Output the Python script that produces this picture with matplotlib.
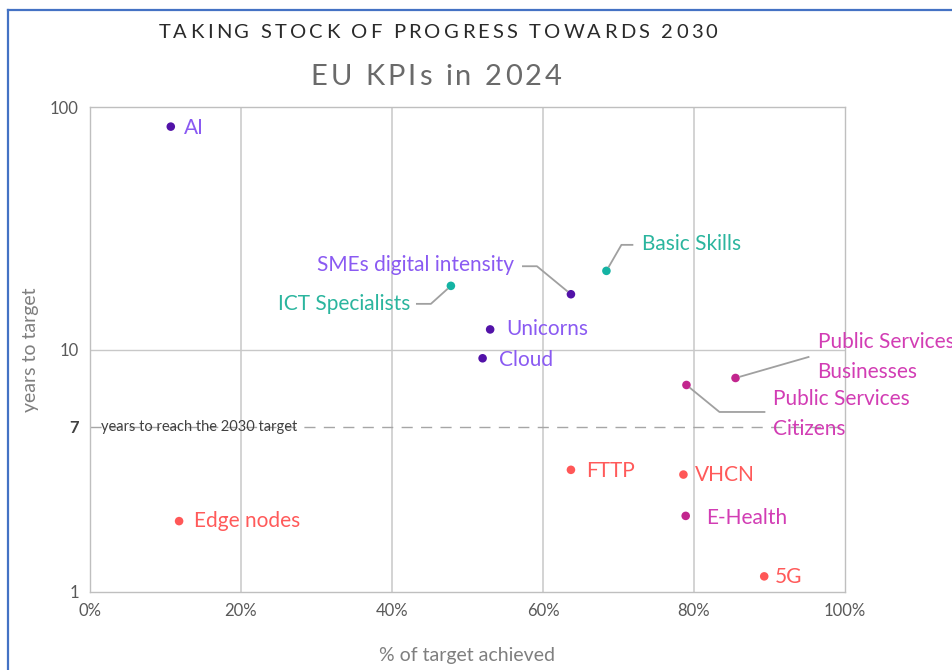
import numpy as np
import matplotlib
matplotlib.use("Agg")
import matplotlib.pyplot as plt
from matplotlib.lines import Line2D
from matplotlib.font_manager import FontProperties
from matplotlib.transforms import IdentityTransform

plt.rcParams['font.family'] = ['Lato', 'DejaVu Sans']

# data
kpis = ['AI', 'SMEs digital intensity', 'ICT Specialists', 'Basic Skills', 'Unicorns', 'Cloud',
        'Public Services\nBusinesses', 'Public Services\nCitizens', 'FTTP', 'VHCN', 'E-Health',
        '5G', 'Edge nodes']
pct_achieved = [10.7, 63.7, 47.8, 68.4, 53.0, 52.0, 85.5, 79.0, 63.7, 78.6, 78.9, 89.3, 11.8]
years_to_target = [83, 16.9, 18.3, 21.1, 12.1, 9.2, 7.63, 7.14, 3.19, 3.05, 2.06, 1.16, 1.96]
group = ['dig', 'dig', 'skill', 'skill', 'dig', 'dig', 'pub', 'pub', 'inf', 'inf', 'pub', 'inf', 'inf']

x_ticks = [0, 20, 40, 60, 80, 100]
x_ticklabels = ['0%', '20%', '40%', '60%', '80%', '100%']
y_ticks = [1, 10, 100]
# the reference line sits at this axis position and is labelled "7"
ref_line_pos = 4.8
ref_line_label = '7'

marker_col = {'dig': '#5212A8', 'skill': '#14B3A3', 'inf': '#FF5757', 'pub': '#C2268E'}
label_col = {'dig': '#8A5AF2', 'skill': '#2BB59E', 'inf': '#FF5A5A', 'pub': '#D23DB4'}

# label offset in pixels (dx, dy), alignment, leader line vertices (pixels from the dot)
lab = {
    'AI': ((13, -1), 'left', None),
    'SMEs digital intensity': ((-57, 29), 'right', [(-34, 28), (-48, 28)]),
    'ICT Specialists': ((-41, -18), 'right', [(-20, -18), (-34, -18)]),
    'Basic Skills': ((36, 27), 'left', [(15, 26), (26, 26)]),
    'Unicorns': ((16, 0), 'left', None),
    'Cloud': ((16, -2), 'left', None),
    'Public Services\nBusinesses': ((82, 21), 'left', [(73, 21)]),
    'Public Services\nCitizens': ((87, -29), 'left', [(33, -27), (78, -27)]),
    'FTTP': ((15, -1), 'left', None),
    'VHCN': ((12, 0), 'left', None),
    'E-Health': ((20, -2), 'left', None),
    '5G': ((11, -1), 'left', None),
    'Edge nodes': ((15, 0), 'left', None),
}

W, H = 953, 670
fig = plt.figure(figsize=(W / 100, H / 100), dpi=100)
ax = fig.add_axes([90 / W, 1 - 592 / H, 755 / W, 485 / H])

ax.set_yscale('log')
ax.set_xlim(0, 100)
ax.set_ylim(1, 100)

for v in x_ticks[1:-1]:
    ax.axvline(v, color='#D0D0D0', lw=1.3, zorder=0)
ax.axhline(10, color='#C8C8C8', lw=1.0, zorder=0)
ax.axhline(ref_line_pos, color='#A6A6A6', lw=1.0, dashes=(8, 6), zorder=1)
ax.text(1.5, ref_line_pos, 'years to reach the 2030 target', fontsize=10.5,
        color='#404040', va='center', ha='left', zorder=2)

for s in ax.spines.values():
    s.set_color('#BFBFBF')
    s.set_linewidth(1.0)

ax.set_xticks(x_ticks)
ax.set_xticklabels(x_ticklabels)
ax.set_yticks(y_ticks + [ref_line_pos])
ax.set_yticklabels([str(v) for v in y_ticks] + [ref_line_label])
ax.yaxis.set_minor_locator(plt.NullLocator())
ax.tick_params(length=0, labelsize=12, labelcolor='#595959', pad=8)
ax.get_yticklabels()[-1].set_color('#404040')
ax.get_yticklabels()[-1].set_fontweight('bold')

for name, x, y, g in zip(kpis, pct_achieved, years_to_target, group):
    ax.scatter(x, y, s=38, color=marker_col[g], zorder=4, edgecolors='none')
    (dx, dy), ha, leader = lab[name]
    ax.annotate(name, (x, y), xytext=(dx, dy), textcoords='offset pixels',
                ha=ha, va='center', fontsize=15, color=label_col[g],
                linespacing=1.6, zorder=5)
    if leader:
        px, py = ax.transData.transform((x, y))
        fx, fy = leader[0]
        d = np.hypot(fx, fy)
        xs = [px + fx * 5 / d] + [px + a for a, _ in leader]
        ys = [py + fy * 5 / d] + [py + b for _, b in leader]
        fig.add_artist(Line2D(xs, ys, transform=IdentityTransform(), color='#A0A0A0', lw=1.3))

ax.set_xlabel('% of target achieved', fontsize=14, color='#7F7F7F', labelpad=20)
ax.set_ylabel('years to target', fontsize=14, color='#7F7F7F', labelpad=8)


def spaced_title(s, xc, yc, size, track, color, weight):
    fp = FontProperties(family=['Lato', 'DejaVu Sans'], size=size, weight=weight)
    r = fig.canvas.get_renderer()
    base = r.get_text_width_height_descent('ll', fp, ismath=False)[0]
    widths = [r.get_text_width_height_descent('l' + c + 'l', fp, ismath=False)[0] - base for c in s]
    total = sum(widths) + track * (len(s) - 1)
    x = xc - total / 2
    for c, w in zip(s, widths):
        fig.text(x / W, 1 - yc / H, c, fontproperties=fp, color=color, ha='left', va='center')
        x += w + track


spaced_title('TAKING STOCK OF PROGRESS TOWARDS 2030', 438, 33, 14.5, 3.2, '#2a2a2a', 'normal')
spaced_title('EU KPIs in 2024', 436, 77, 21, 3.0, '#6a6a6a', 'normal')

# blue frame of the source chart
fig.add_artist(Line2D([8, W], [H - 10, H - 10], transform=IdentityTransform(), color='#4472C4', lw=1.6))
fig.add_artist(Line2D([8, 8], [0, H - 10], transform=IdentityTransform(), color='#4472C4', lw=1.6))

fig.savefig('out.png', dpi=100)
